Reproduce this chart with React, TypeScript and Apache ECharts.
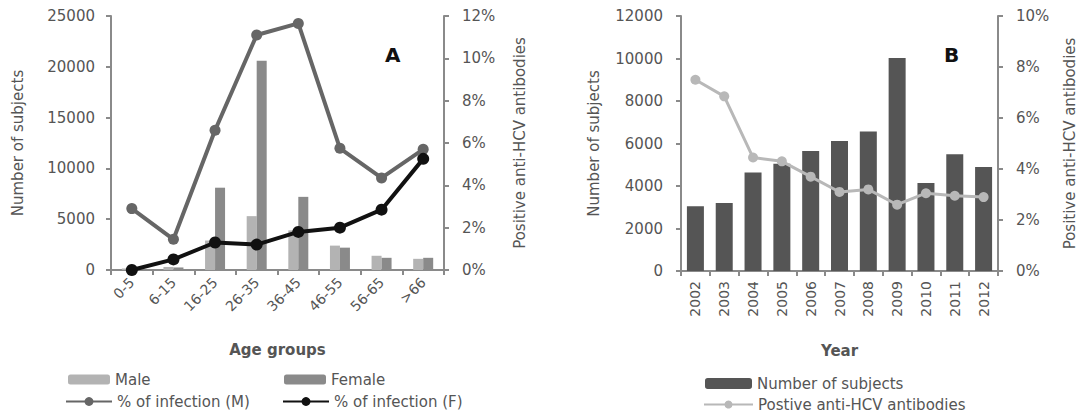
import React, { useEffect, useRef } from "react";
import * as echarts from "echarts";

const ageGroups = ["0-5", "6-15", "16-25", "26-35", "36-45", "46-55", "56-65", ">66"];
const maleSubjects = [150, 300, 2900, 5300, 3900, 2400, 1400, 1100];
const femaleSubjects = [150, 250, 8100, 20600, 7200, 2200, 1200, 1200];
const infectionM = [2.9, 1.45, 6.6, 11.1, 11.65, 5.75, 4.35, 5.7];
const infectionF = [0, 0.5, 1.3, 1.2, 1.8, 2.0, 2.85, 5.25];

const years = ["2002", "2003", "2004", "2005", "2006", "2007", "2008", "2009", "2010", "2011", "2012"];
const subjectsByYear = [3050, 3200, 4630, 5050, 5650, 6120, 6570, 10020, 4140, 5490, 4890];
const positiveByYear = [7.5, 6.85, 4.45, 4.3, 3.7, 3.1, 3.2, 2.6, 3.05, 2.95, 2.9];

const FONT = "DejaVu Sans";
const TXT = "#555";
const AXIS = "#8a8a8a";

export default function App() {
  const ref = useRef<HTMLDivElement>(null);
  useEffect(() => {
    if (!ref.current) return;
    const chart = echarts.init(ref.current, null, { renderer: "svg" });
    const axisLine = { show: true, lineStyle: { color: AXIS, width: 2 } };
    const axisTick = { show: true, length: 5, lineStyle: { color: AXIS, width: 2 } };
    const yLabel = (m: number, pct: boolean) => ({
      color: TXT,
      fontFamily: FONT,
      fontSize: 15,
      margin: m,
      formatter: (v: number) => (pct ? `${v}%` : String(v)),
    });
    const nameStyle = { color: TXT, fontFamily: FONT, fontSize: 15 };
    const legText = { color: TXT, fontFamily: FONT, fontSize: 15 };
    const leg = (name: string, left: number, top: number, w: number, h: number) => ({
      data: [name],
      left,
      top,
      itemWidth: w,
      itemHeight: h,
      padding: 0,
      textStyle: legText,
    });
    chart.setOption({
      animation: false,
      backgroundColor: "#fff",
      grid: [
        { left: 111, right: 642, top: 16, bottom: 149 },
        { left: 681, right: 88, top: 16, bottom: 148 },
      ],
      xAxis: [
        {
          type: "category",
          gridIndex: 0,
          data: ageGroups,
          axisLine,
          axisTick,
          axisLabel: { color: TXT, fontFamily: FONT, fontSize: 14, rotate: 45, margin: 10 },
          name: "Age groups",
          nameLocation: "middle",
          nameGap: 72,
          nameTextStyle: { ...nameStyle, fontWeight: "bold" },
        },
        {
          type: "category",
          gridIndex: 1,
          data: years,
          axisLine,
          axisTick,
          axisLabel: { color: TXT, fontFamily: FONT, fontSize: 14, rotate: 90, margin: 10 },
          name: "Year",
          nameLocation: "middle",
          nameGap: 72,
          nameTextStyle: { ...nameStyle, fontWeight: "bold" },
        },
      ],
      yAxis: [
        {
          type: "value",
          gridIndex: 0,
          min: 0,
          max: 25000,
          interval: 5000,
          axisLine,
          axisTick,
          splitLine: { show: false },
          axisLabel: yLabel(16, false),
          name: "Number of subjects",
          nameLocation: "middle",
          nameGap: 86,
          nameTextStyle: nameStyle,
        },
        {
          type: "value",
          gridIndex: 0,
          position: "right",
          min: 0,
          max: 12,
          interval: 2,
          axisLine,
          axisTick,
          splitLine: { show: false },
          axisLabel: yLabel(18, true),
          name: "Positive anti-HCV antibodies",
          nameLocation: "middle",
          nameGap: 68,
          nameTextStyle: nameStyle,
        },
        {
          type: "value",
          gridIndex: 1,
          min: 0,
          max: 12000,
          interval: 2000,
          axisLine,
          axisTick,
          splitLine: { show: false },
          axisLabel: yLabel(18, false),
          name: "Number of subjects",
          nameLocation: "middle",
          nameGap: 80,
          nameTextStyle: nameStyle,
        },
        {
          type: "value",
          gridIndex: 1,
          position: "right",
          min: 0,
          max: 10,
          interval: 2,
          axisLine,
          axisTick,
          splitLine: { show: false },
          axisLabel: yLabel(18, true),
          name: "Positive anti-HCV antibodies",
          nameLocation: "middle",
          nameGap: 64,
          nameTextStyle: nameStyle,
        },
      ],
      legend: [
        leg("Male", 68, 372, 42, 10),
        leg("Female", 284, 372, 42, 10),
        leg("% of infection (M)", 65, 394, 46, 11),
        leg("% of infection (F)", 282, 394, 46, 11),
        leg("Number of subjects", 705, 376, 47, 11),
        leg("Postive anti-HCV antibodies", 703, 397, 49, 10),
      ],
      graphic: [
        {
          type: "text",
          left: 385,
          top: 45,
          style: { text: "A", font: `bold 20px ${FONT}`, fill: "#111" },
        },
        {
          type: "text",
          left: 944,
          top: 45,
          style: { text: "B", font: `bold 20px ${FONT}`, fill: "#111" },
        },
      ],
      series: [
        {
          name: "Male",
          type: "bar",
          xAxisIndex: 0,
          yAxisIndex: 0,
          data: maleSubjects,
          barWidth: 10,
          barGap: "0%",
          itemStyle: { color: "#b3b3b3" },
        },
        {
          name: "Female",
          type: "bar",
          xAxisIndex: 0,
          yAxisIndex: 0,
          data: femaleSubjects,
          barWidth: 10,
          barGap: "0%",
          itemStyle: { color: "#8a8a8a" },
        },
        {
          name: "% of infection (M)",
          type: "line",
          xAxisIndex: 0,
          yAxisIndex: 1,
          data: infectionM,
          symbol: "circle",
          symbolSize: 11,
          lineStyle: { color: "#666", width: 4 },
          itemStyle: { color: "#666" },
          z: 3,
        },
        {
          name: "% of infection (F)",
          type: "line",
          xAxisIndex: 0,
          yAxisIndex: 1,
          data: infectionF,
          symbol: "circle",
          symbolSize: 12,
          lineStyle: { color: "#111", width: 4 },
          itemStyle: { color: "#111" },
          z: 4,
        },
        {
          name: "Number of subjects",
          type: "bar",
          xAxisIndex: 1,
          yAxisIndex: 2,
          data: subjectsByYear,
          barWidth: 17,
          itemStyle: { color: "#555" },
        },
        {
          name: "Postive anti-HCV antibodies",
          type: "line",
          xAxisIndex: 1,
          yAxisIndex: 3,
          data: positiveByYear,
          symbol: "circle",
          symbolSize: 10,
          lineStyle: { color: "#b8b8b8", width: 3 },
          itemStyle: { color: "#b8b8b8" },
          z: 3,
        },
      ],
    });
    return () => chart.dispose();
  }, []);
  return <div ref={ref} style={{ width: 1086, height: 419, margin: -8 }} />;
}
